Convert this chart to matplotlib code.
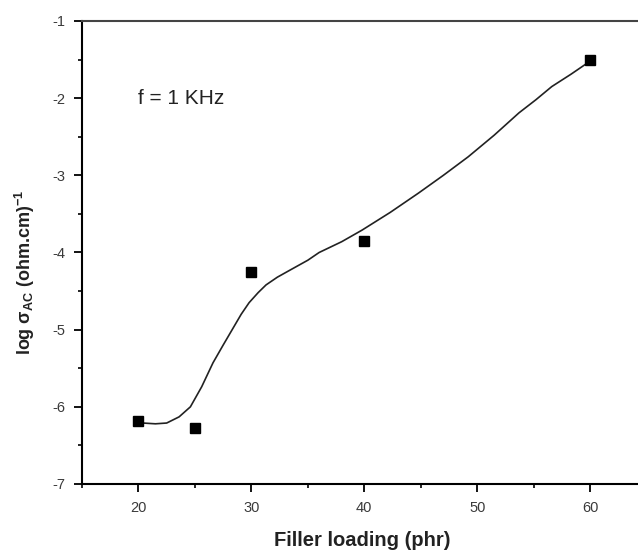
import matplotlib
matplotlib.use('Agg')
import matplotlib.pyplot as plt
from matplotlib.ticker import MultipleLocator

plt.rcParams['font.family'] = ['Liberation Sans', 'DejaVu Sans']
plt.rcParams['mathtext.fontset'] = 'custom'
plt.rcParams['mathtext.rm'] = 'Liberation Sans'
plt.rcParams['mathtext.it'] = 'Liberation Sans:italic'
plt.rcParams['mathtext.bf'] = 'Liberation Sans:bold'
plt.rcParams['axes.unicode_minus'] = False

# measured points
filler = [20, 25, 30, 40, 60]
log_sigma = [-6.19, -6.27, -4.25, -3.85, -1.50]

# smooth guide curve
curve_x = [20.4, 21.5, 22.5, 23.6, 24.6, 25.6, 26.6, 27.5, 28.3, 29.1, 29.8,
           30.6, 31.3, 32.3, 33.4, 35.0, 36.0, 38.0, 39.8, 42.3, 44.8, 47.0,
           49.2, 51.5, 53.7, 55.2, 56.6, 58.3, 59.9]
curve_y = [-6.21, -6.22, -6.21, -6.13, -6.00, -5.74, -5.43, -5.20, -5.00,
           -4.80, -4.65, -4.52, -4.42, -4.32, -4.23, -4.10, -4.00, -3.86,
           -3.71, -3.48, -3.23, -3.00, -2.76, -2.48, -2.19, -2.02, -1.85,
           -1.69, -1.53]

fig = plt.figure(figsize=(6.38, 5.51), dpi=100)
ax = fig.add_axes([0.1285, 0.1216, 0.885, 0.8403])

ax.plot(curve_x, curve_y, color='#222222', linewidth=1.2)
ax.plot(filler, log_sigma, linestyle='none', marker='s', markersize=6.5,
        color='black')

ax.set_xlim(15, 65)
ax.set_ylim(-7, -1)
ax.xaxis.set_major_locator(MultipleLocator(10))
ax.xaxis.set_minor_locator(MultipleLocator(5))
ax.yaxis.set_major_locator(MultipleLocator(1))
ax.yaxis.set_minor_locator(MultipleLocator(0.5))
ax.set_xticks([20, 30, 40, 50, 60])

ax.tick_params(which='major', direction='out', length=6, width=1.3,
               labelsize=10.5, colors='black', labelcolor='#3a3a3a', pad=6)
ax.tick_params(which='minor', direction='out', length=3, width=1.2)
ax.tick_params(top=False, right=False, which='both')

for side in ['left', 'bottom', 'top']:
    ax.spines[side].set_linewidth(1.5)
ax.spines['top'].set_color('#444444')

ax.set_xlabel('Filler loading (phr)', fontsize=14.5, fontweight='bold',
              color='#222222')
ax.xaxis.set_label_coords(0.497, -0.121)
ax.xaxis.label.set_verticalalignment('center')
ax.set_ylabel(r'log $\mathbf{\sigma}_{\mathbf{AC}}$ (ohm.cm)$^{\mathbf{-1}}$',
              fontsize=13, fontweight='bold', color='#222222')
ax.yaxis.set_label_coords(-0.101, 0.458)
ax.yaxis.label.set_verticalalignment('center')

ax.text(20.0, -2.0, 'f = 1 KHz', fontsize=15, color='#222222',
        va='center')

fig.savefig('out.png', dpi=100)
